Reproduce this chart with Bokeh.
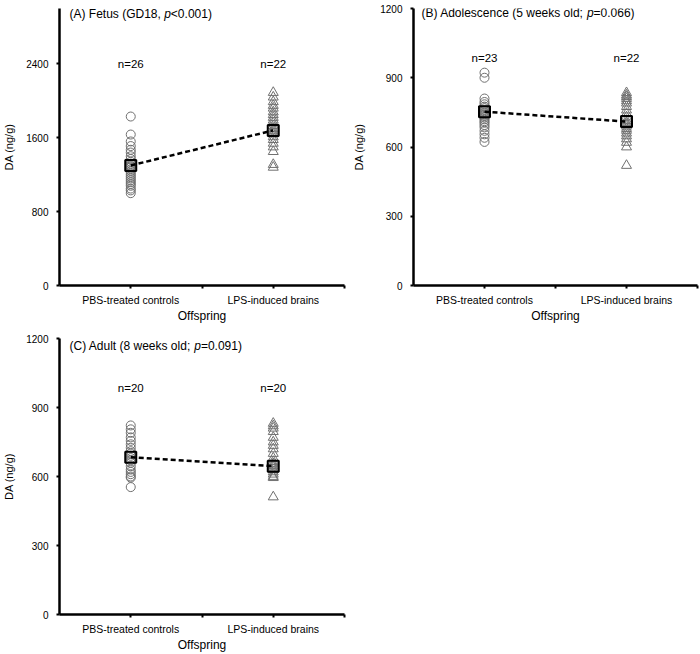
from bokeh.plotting import figure
from bokeh.models import FixedTicker, Label, Range1d
from bokeh.layouts import column, row
from bokeh.embed import file_html
from bokeh.resources import INLINE
from bokeh.core.properties import value

# ---------------- data ----------------
group_labels = ["PBS-treated controls", "LPS-induced brains"]
group_x = [1, 3]
x_title = "Offspring"
y_title = "DA (ng/g)"

a_pbs = [1830, 1635, 1560, 1510, 1470, 1440, 1400, 1370, 1340, 1320, 1300, 1290, 1280,
         1260, 1240, 1220, 1200, 1180, 1160, 1140, 1120, 1100, 1080, 1050, 1030, 1000]
a_lps = [2090, 2040, 1990, 1950, 1920, 1880, 1850, 1820, 1790, 1760, 1730, 1700, 1680,
         1660, 1640, 1610, 1580, 1540, 1500, 1450, 1310, 1280]
a_means = [1300, 1680]
a_n = ["n=26", "n=22"]

b_pbs = [922, 900, 810, 795, 785, 775, 768, 760, 755, 750, 745, 740, 735, 728, 720,
         712, 705, 695, 685, 670, 655, 640, 622]
b_lps = [835, 825, 818, 810, 800, 790, 775, 760, 745, 730, 715, 705, 698, 690, 680,
         672, 660, 648, 635, 620, 600, 520]
b_means = [753, 710]
b_n = ["n=23", "n=22"]

c_pbs = [822, 805, 790, 770, 755, 740, 725, 710, 700, 690, 680, 670, 660, 645, 630,
         620, 610, 600, 595, 554]
c_lps = [831, 820, 810, 795, 770, 750, 735, 720, 700, 680, 665, 655, 648, 640, 630,
         620, 610, 600, 595, 511]
c_means = [684, 645]
c_n = ["n=20", "n=20"]

a_title = ["(A) Fetus (GD18, ", "p", "<0.001)"]
b_title = ["(B) Adolescence (5 weeks old; ", "p", "=0.066)"]
c_title = ["(C) Adult (8 weeks old; ", "p", "=0.091)"]

a_yticks = [0, 800, 1600, 2400]
bc_yticks = [0, 300, 600, 900, 1200]

FONT = "Liberation Sans"

# Arial / Liberation Sans advance widths (per 1000 em)
AW = {"(": 333, ")": 333, " ": 278, "A": 667, "B": 667, "C": 722, "D": 722, "F": 611,
      "G": 778, "a": 556, "c": 500, "d": 556, "e": 556, "k": 500, "l": 222, "n": 556,
      "o": 556, "p": 556, "s": 500, "t": 278, "u": 556, "w": 722, ",": 278, ";": 278,
      "<": 584, "=": 584, ".": 278}


def tw(s, size):
    return sum(AW.get(ch, 556) for ch in s) * size / 1000.0


def panel(w, h, left, right, top, ylab_standoff, title_dx, title_dy, y_end, yticks,
          pbs, lps, means, ns, n_y, title):
    p = figure(width=w, height=h, output_backend="svg", toolbar_location=None,
               x_range=Range1d(0, 4), y_range=Range1d(0, y_end),
               min_border_left=left, min_border_right=right,
               min_border_top=top, min_border_bottom=20)
    p.outline_line_color = None
    p.xgrid.visible = False
    p.ygrid.visible = False
    p.background_fill_color = "white"
    p.border_fill_color = "white"

    for ax in (p.xaxis[0], p.yaxis[0]):
        ax.axis_line_width = 2.5
        ax.axis_line_color = "black"
        ax.major_tick_line_width = 2
        ax.major_tick_line_color = "black"
        ax.major_tick_out = 3
        ax.major_tick_in = 0
        ax.minor_tick_line_color = None
        ax.major_label_text_font = FONT
        ax.major_label_text_color = "black"
        ax.axis_label_text_font = FONT
        ax.axis_label_text_font_style = "normal"
        ax.axis_label_text_color = "black"

    p.yaxis.ticker = FixedTicker(ticks=yticks)
    p.yaxis.major_label_text_font_size = "10px"
    p.yaxis.major_label_standoff = 8
    p.yaxis.axis_label = y_title
    p.yaxis.axis_label_text_font_size = "11px"
    p.yaxis.axis_label_standoff = ylab_standoff

    p.xaxis.ticker = FixedTicker(ticks=[1, 2, 3, 4])
    p.xaxis.major_label_overrides = {1: group_labels[0], 2: "", 3: group_labels[1], 4: ""}
    p.xaxis.major_label_text_font_size = "10.5px"
    p.xaxis.major_label_standoff = 5
    p.xaxis.axis_label = x_title
    p.xaxis.axis_label_text_font_size = "12px"
    p.xaxis.axis_label_standoff = 0

    p.scatter([group_x[0]] * len(pbs), pbs, marker="circle", size=9,
              fill_color=None, line_color="#707070", line_width=1)
    p.scatter([group_x[1]] * len(lps), lps, marker="triangle", size=10,
              fill_color=None, line_color="#707070", line_width=1)
    p.line(group_x, means, line_color="black", line_width=2.5, line_dash="5 3")
    p.scatter(group_x, means, marker="square", size=11, fill_color=None,
              line_color="black", line_width=2)

    p.text(x=group_x, y=[n_y, n_y], text=ns, text_align="center",
           text_baseline="middle", text_font=value(FONT),
           text_font_size="11.5px", text_color="black")

    off = title_dx
    for i, part in enumerate(title):
        lab = Label(x=0, y=y_end, x_offset=off, y_offset=title_dy, text=part,
                    text_font=FONT, text_font_size="12px", text_color="black",
                    text_baseline="middle", text_align="left",
                    text_font_style="italic" if i == 1 else "normal")
        p.add_layout(lab)
        off += tw(part, 12)
    return p


pA = panel(350, 325, 58, 6, 8, 8, 10, -5, 3000, a_yticks,
           a_pbs, a_lps, a_means, a_n, 2400, a_title)
pB = panel(350, 325, 62, 3, 8, 12, 8, -4, 1200, bc_yticks,
           b_pbs, b_lps, b_means, b_n, 985, b_title)
pC = panel(350, 329, 58, 6, 13, 8, 10, -7, 1200, bc_yticks,
           c_pbs, c_lps, c_means, c_n, 985, c_title)

layout = column(row(pA, pB), pC)
open("out.html", "w").write(file_html(layout, INLINE))
